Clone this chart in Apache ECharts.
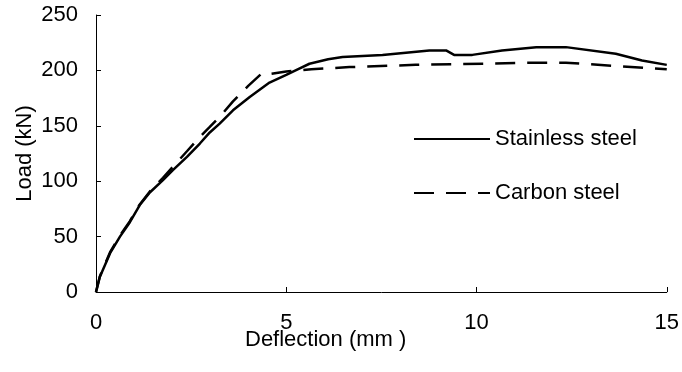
<!DOCTYPE html>
<html>
<head>
<meta charset="utf-8">
<script src="https://cdn.jsdelivr.net/npm/echarts@6/dist/echarts.min.js"></script>
<style>
  html, body { margin: 0; padding: 0; background: #fff; }
  #chart { width: 682px; height: 372px; }
</style>
</head>
<body>
<div id="chart"></div>
<script>
// Load-deflection curves
const seriesNames = ['Stainless steel', 'Carbon steel'];

const stainlessX = [0, 0.1, 0.37, 0.63, 0.89, 1.15, 1.42, 1.76, 2.02, 2.39, 2.73, 2.99, 3.25, 3.6, 4.04, 4.56, 5.0, 5.3, 5.61, 6.1, 6.48, 7.53, 8.76, 9.2, 9.41, 9.89, 10.67, 11.57, 12.35, 13.66, 14.35, 15];
const stainlessY = [0, 13.5, 35, 50, 63, 78.5, 90, 101, 110, 122, 134, 144, 152, 164, 176, 189, 196, 201, 206, 210, 212, 214, 218, 218, 214, 214, 218, 221, 221, 215, 209, 205];

const carbonX = [0, 0.1, 0.37, 0.63, 0.89, 1.15, 1.42, 1.76, 2.02, 2.39, 2.73, 2.99, 3.3, 3.6, 4.0, 4.38, 4.6, 5.0, 5.66, 6.66, 8.4, 10.2, 11.5, 12.35, 13.66, 15];
const carbonY = [0, 14, 36, 51, 64, 79, 91, 103, 113, 127, 140, 149, 160, 172, 186, 198, 197, 199, 201, 203, 205, 206, 207, 207, 204, 201];

const xTicks = [0, 5, 10, 15];
const yTicks = [0, 50, 100, 150, 200, 250];

const zip = (xs, ys) => xs.map((x, i) => [x, ys[i]]);

const font = '"Liberation Sans", Arial, sans-serif';
const fs = 22;
const chart = echarts.init(document.getElementById('chart'));

const option = {
  backgroundColor: '#fff',
  animation: false,
  grid: { left: 96, right: 14, top: 15, bottom: 80 },
  legend: {
    orient: 'vertical',
    left: 413,
    top: 128,
    padding: 0,
    itemWidth: 76,
    itemHeight: 20,
    itemGap: 32,
    data: seriesNames,
    itemStyle: { color: 'transparent', borderWidth: 0, opacity: 0 },
    textStyle: { color: '#000', fontFamily: font, fontSize: fs }
  },
  xAxis: {
    type: 'value',
    min: xTicks[0],
    max: xTicks[xTicks.length - 1],
    interval: 5,
    axisLine: { lineStyle: { color: '#000', width: 1 } },
    axisTick: { inside: true, length: 5, lineStyle: { color: '#000' } },
    axisLabel: { color: '#000', fontFamily: font, fontSize: fs, margin: 20 },
    splitLine: { show: false }
  },
  yAxis: {
    type: 'value',
    min: yTicks[0],
    max: yTicks[yTicks.length - 1],
    interval: 50,
    name: 'Load (kN)',
    nameLocation: 'middle',
    nameGap: 60,
    nameMoveOverlap: false,
    nameTextStyle: { color: '#000', fontFamily: font, fontSize: fs },
    axisLine: { show: true, lineStyle: { color: '#000', width: 1 } },
    axisTick: { show: true, inside: true, length: 5, lineStyle: { color: '#000' } },
    axisLabel: { color: '#000', fontFamily: font, fontSize: fs, margin: 18 },
    splitLine: { show: false }
  },
  graphic: [{
    type: 'text',
    left: 245,
    top: 329,
    style: { text: 'Deflection (mm )', fill: '#000', font: fs + 'px ' + font }
  }],
  series: [
    {
      name: seriesNames[0],
      type: 'line',
      data: zip(stainlessX, stainlessY),
      symbol: 'none',
      lineStyle: { color: '#000', width: 2.5, type: 'solid' },
      itemStyle: { color: '#000' },
      z: 3
    },
    {
      name: seriesNames[1],
      type: 'line',
      data: zip(carbonX, carbonY),
      symbol: 'none',
      lineStyle: { color: '#000', width: 2.5, type: [20, 12] },
      itemStyle: { color: '#000' },
      z: 2
    }
  ]
};

chart.setOption(option);
</script>
</body>
</html>
